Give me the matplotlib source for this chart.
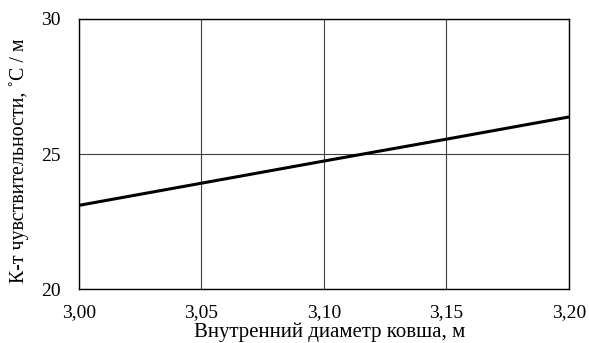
import matplotlib
matplotlib.use("Agg")
import matplotlib.pyplot as plt
import numpy as np

plt.rcParams['font.family'] = ['Liberation Serif', 'DejaVu Serif']

# Внутренний диаметр ковша, м
diameter = np.array([3.00, 3.05, 3.10, 3.15, 3.20])
# Коэффициент чувствительности, °C / м
sensitivity = np.array([23.10, 23.92, 24.74, 25.55, 26.37])
x_ticks = [3.00, 3.05, 3.10, 3.15, 3.20]
x_tick_labels = ['3,00', '3,05', '3,10', '3,15', '3,20']
y_ticks = [20, 25, 30]

fig = plt.figure(figsize=(5.89, 3.43), dpi=100)
ax = fig.add_axes([0.134, 0.157, 0.832, 0.788])

ax.plot(diameter, sensitivity, color='black', linewidth=2.2, solid_capstyle='butt')

ax.set_xlim(3.00, 3.20)
ax.set_ylim(20, 30)
ax.set_xticks(x_ticks)
ax.set_xticklabels(x_tick_labels)
ax.set_yticks(y_ticks)
ax.tick_params(length=0, labelsize=14)
ax.tick_params(axis='x', pad=10.5)
ax.tick_params(axis='y', pad=13)
ax.grid(True, color='#404040', linewidth=0.8)
ax.set_axisbelow(True)
for s in ax.spines.values():
    s.set_linewidth(1.0)
    s.set_color('black')

ax.set_xlabel('Внутренний диаметр ковша, м', fontsize=15)
ax.xaxis.set_label_coords(0.512, -0.122)
ax.set_ylabel('К-т чувствительности, ˚C / м', fontsize=14.3)
ax.yaxis.set_label_coords(-0.102, 0.474)

fig.savefig('out.png', dpi=100)
